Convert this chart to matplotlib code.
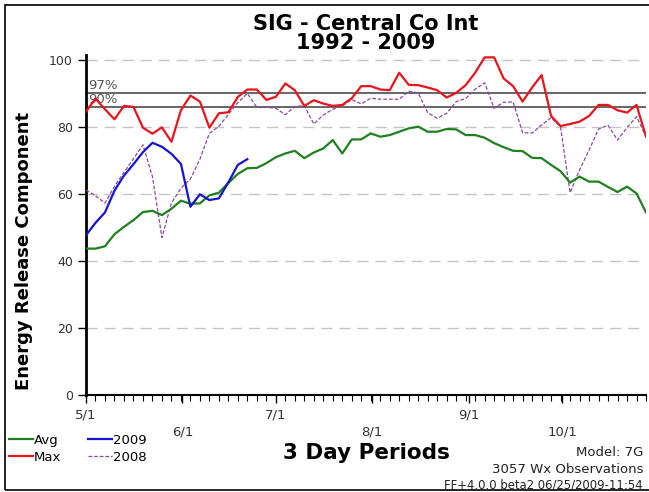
import matplotlib
matplotlib.use('Agg')
import matplotlib.pyplot as plt
from matplotlib.patches import Rectangle
import numpy as np

# ---- data ----
avg = [43.7, 43.7, 44.4, 48.0, 50.2, 52.2, 54.6, 55.0, 53.7, 55.6,
       58.0, 57.1, 57.2, 59.6, 60.4, 63.3, 66.0, 67.7, 67.8, 69.2,
       71.0, 72.1, 72.9, 70.7, 72.4, 73.6, 76.1, 72.1, 76.3, 76.3,
       78.1, 77.1, 77.6, 78.6, 79.6, 80.1, 78.6, 78.6, 79.4, 79.3,
       77.6, 77.6, 76.8, 75.2, 74.0, 72.9, 72.8, 70.8, 70.7, 68.7,
       66.8, 63.4, 65.2, 63.7, 63.7, 62.1, 60.6, 62.2, 60.2, 54.5]
max_vals = [84.6, 88.5, 85.3, 82.3, 86.3, 86.0, 79.8, 78.0, 79.9, 75.6,
            85.0, 89.4, 87.6, 79.8, 84.1, 84.4, 89.0, 91.2, 91.2, 88.1,
            89.0, 93.0, 91.0, 86.3, 88.0, 87.0, 86.3, 86.6, 88.6, 92.2,
            92.2, 91.2, 91.0, 96.2, 92.6, 92.5, 91.8, 91.0, 88.8, 90.2,
            92.5, 96.2, 100.8, 100.8, 94.5, 92.2, 87.6, 91.8, 95.5, 83.3,
            80.3, 80.9, 81.6, 83.3, 86.6, 86.6, 85.0, 84.3, 86.6, 77.1]
y2009 = [47.7, 51.4, 54.5, 61.0, 65.5, 68.9, 72.5, 75.3, 74.1, 72.0,
         69.0, 56.2, 59.9, 58.2, 58.7, 63.5, 68.7, 70.4]
y2008 = [61.2, 59.5, 57.3, 62.3, 66.5, 70.5, 74.7, 65.2, 47.0, 57.3,
         61.7, 64.5, 70.4, 78.1, 80.2, 83.8, 87.3, 90.0, 85.9, 85.9,
         85.6, 83.7, 86.1, 86.4, 80.9, 83.6, 85.3, 86.3, 88.2, 86.9,
         88.6, 88.3, 88.3, 88.3, 90.7, 90.2, 84.3, 82.6, 84.1, 87.6,
         88.5, 91.3, 93.2, 85.6, 87.4, 87.5, 78.3, 78.2, 80.6, 82.8,
         80.0, 60.4, 67.2, 73.1, 79.4, 80.5, 76.1, 79.8, 83.1, 77.1]
pct_labels = ['97%', '90%']
pct_values = [90.2, 86.1]
month_labels = ['5/1', '6/1', '7/1', '8/1', '9/1', '10/1']
month_days = [0, 31, 61, 92, 123, 153]
days_per_period = 3.05
y_ticks = [0, 20, 40, 60, 80, 100]

plt.rcParams['font.family'] = ['DejaVu Sans']

W, H = 649, 492
fig = plt.figure(figsize=(W / 100, H / 100), dpi=100)
fig.patch.set_facecolor('white')

ax = fig.add_axes([86 / W, 1 - 395 / H, 560 / W, (395 - 55) / H])

p_all = np.arange(len(avg))
p_2009 = np.arange(len(y2009))

# grid
for v in y_ticks:
    ax.axhline(v, color='#c4c4c4', lw=1.0, ls=(0, (8, 5)), zorder=1)
# percentile lines
for lab, v in zip(pct_labels, pct_values):
    ax.axhline(v, color='#5a5a5a', lw=1.3, zorder=2)
    ax.text(0.25, v + 0.2, lab, color='#555555', fontsize=9.5, ha='left', va='bottom', zorder=3)

l_2008, = ax.plot(p_all, y2008, color='#8a4a9a', lw=0.9, ls=(0, (3, 1.5)), label='2008', zorder=4)
l_avg, = ax.plot(p_all, avg, color='#1e801e', lw=1.6, label='Avg', zorder=5)
l_max, = ax.plot(p_all, max_vals, color='#e8141c', lw=1.6, label='Max', zorder=5)
l_2009, = ax.plot(p_2009, y2009, color='#1414d2', lw=1.6, label='2009', zorder=6)

ax.set_xlim(0, len(avg) - 1)
ax.set_ylim(0, 101.5)

for s in ['top', 'right']:
    ax.spines[s].set_visible(False)
ax.spines['left'].set_linewidth(2.0)
ax.spines['bottom'].set_linewidth(1.5)

ax.set_yticks(y_ticks)
ax.set_yticklabels([str(v) for v in y_ticks])
ax.tick_params(axis='y', length=6, width=1, pad=3.5, labelsize=9, labelcolor='#333333')

major_pos = [d / days_per_period for d in month_days]
ax.set_xticks(major_pos)
ax.set_xticklabels([lab if i % 2 == 0 else '\n' + lab for i, lab in enumerate(month_labels)])
ax.set_xticks(p_all, minor=True)
ax.tick_params(axis='x', which='major', length=6, width=1, pad=4, labelsize=9.5, labelcolor='#333333')
ax.tick_params(axis='x', which='minor', length=4, width=0.8)
for t in ax.get_xticklabels():
    t.set_linespacing(1.4)

# titles and texts
fig.text(366 / W, 1 - 30 / H, 'SIG - Central Co Int', ha='center', va='baseline',
         fontsize=15, weight='bold')
fig.text(366 / W, 1 - 49 / H, '1992 - 2009', ha='center', va='baseline',
         fontsize=15, weight='bold')
fig.text(24.5 / W, 1 - 251 / H, 'Energy Release Component', rotation=90,
         ha='center', va='center', fontsize=13, weight='bold')
fig.text(366 / W, 1 - 459 / H, '3 Day Periods', ha='center', va='baseline',
         fontsize=15.5, weight='bold')
fig.text(643 / W, 1 - 456.5 / H, 'Model: 7G', ha='right', va='baseline', fontsize=9.5, color='#222222')
fig.text(643 / W, 1 - 473 / H, '3057 Wx Observations', ha='right', va='baseline', fontsize=9.5, color='#222222')
fig.text(643 / W, 1 - 489 / H, 'FF+4.0.0 beta2 06/25/2009-11:54', ha='right', va='baseline', fontsize=8.4, color='#222222')

fig.legend(handles=[l_avg, l_max, l_2009, l_2008], labels=['Avg', 'Max', '2009', '2008'],
           ncol=2, loc='upper left', bbox_to_anchor=(9 / W, 1 - 434 / H),
           frameon=False, fontsize=9.5, handlelength=1.8, handletextpad=0.1,
           columnspacing=2.0, labelspacing=0.27, borderpad=0, borderaxespad=0)

# outer frame
fig.patches.append(Rectangle((5 / W, 1 - 490 / H), 1.2, (490 - 5) / H,
                             transform=fig.transFigure, fill=False,
                             edgecolor='black', lw=1.2, zorder=0))

fig.savefig('out.png', dpi=100)
